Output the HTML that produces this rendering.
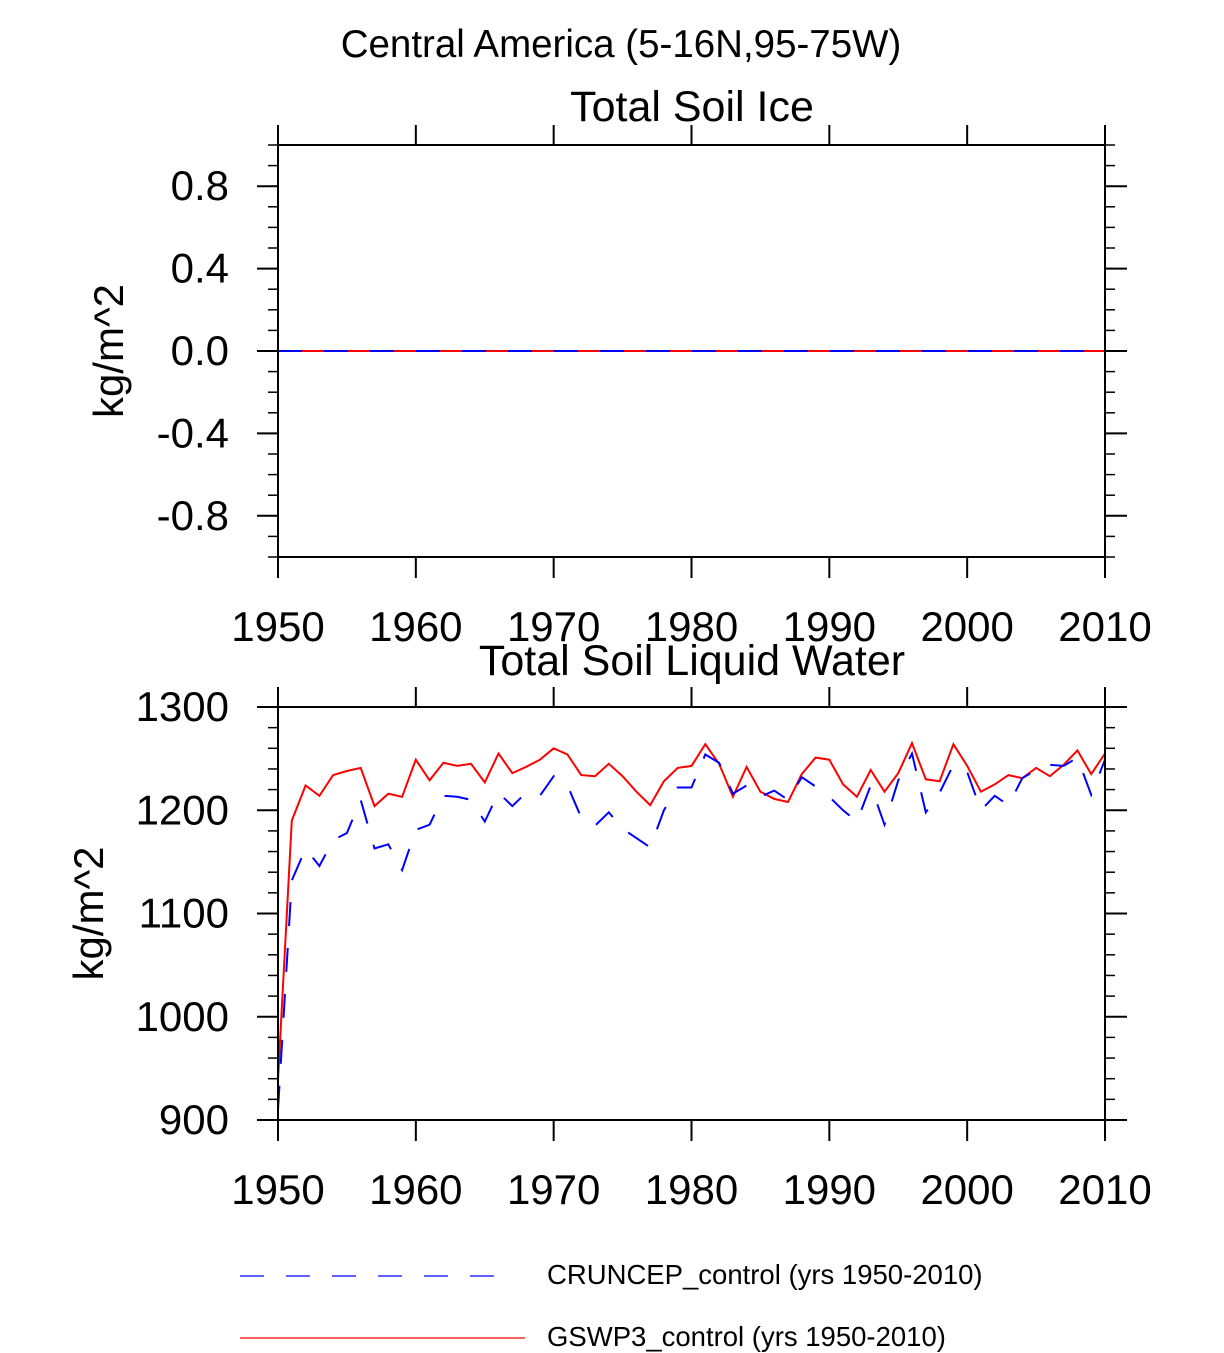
<!DOCTYPE html>
<html><head><meta charset="utf-8"><style>
body{margin:0;background:#fff;}
svg{display:block;font-family:"Liberation Sans",Arial,sans-serif;}
</style></head><body>
<svg id="chart" width="1224" height="1353">
<text x="621" y="57" font-size="38.5" text-anchor="middle">Central America (5-16N,95-75W)</text>
<text x="692" y="121" font-size="43" text-anchor="middle">Total Soil Ice</text>
<text x="692" y="675" font-size="43" text-anchor="middle">Total Soil Liquid Water</text>
<g id="top"></g>
<g id="bot"></g>
<g>
<g>
<line x1="240" y1="1276" x2="515" y2="1276" stroke="#00f" stroke-width="1.3" stroke-dasharray="24,22"/>
<text x="547" y="1284" font-size="27.5">CRUNCEP_control (yrs 1950-2010)</text></g>
<g>
<line x1="240" y1="1338" x2="525" y2="1338" stroke="#f00" stroke-width="1.3"/>
<text x="547" y="1346" font-size="27.5">GSWP3_control (yrs 1950-2010)</text></g>
</g>
</svg>
<script>
const years=[];for(let y=1950;y<=2010;y++)years.push(y);
const xTicks=[1950,1960,1970,1980,1990,2000,2010];
const iceTicks=[0.8,0.4,0.0,-0.4,-0.8];
const iceTickLabels=["0.8","0.4","0.0","-0.4","-0.8"];
const waterTicks=[1300,1200,1100,1000,900];
const iceCRU=years.map(()=>0);
const iceGSW=years.map(()=>0);
const waterCRU=[910,1132,1163,1146,1171,1178,1210,1163,1167,1142,1181,1186,1214,1213,1210,1189,1217,1204,1217,1214,1233,1224,1193,1185,1198,1182,1173,1164,1200,1222,1222,1254,1246,1216,1224,1213,1219,1210,1232,1223,1213,1200,1189,1224,1186,1229,1255,1198,1217,1244,1237,1200,1214,1205,1231,1239,1244,1243,1251,1215,1249];
const waterGSW=[939,1190,1224,1214,1234,1238,1241,1204,1216,1213,1249,1229,1246,1243,1245,1227,1255,1236,1242,1249,1260,1254,1234,1233,1245,1233,1218,1205,1228,1241,1243,1264,1245,1213,1242,1218,1211,1208,1235,1251,1249,1225,1213,1239,1218,1236,1265,1230,1228,1264,1243,1218,1225,1234,1231,1241,1233,1244,1258,1235,1255];
const NS="http://www.w3.org/2000/svg";
function mk(p,t,a){const e=document.createElementNS(NS,t);for(const k in a)e.setAttribute(k,a[k]);p.appendChild(e);return e;}
function panel(g,top,bot,ymin,ymax,ticks,labels,minorStep,cru,gsw,tag){
 const L=278,R=1105;
 const x=v=>L+(v-1950)/60*(R-L);
 const y=v=>bot-(v-ymin)/(ymax-ymin)*(bot-top);
 const pts=a=>a.map((v,i)=>x(years[i]).toFixed(1)+","+y(v).toFixed(1)).join(" ");
 let s=mk(g,"polyline",{points:pts(gsw),fill:"none",stroke:"#f00","stroke-width":2});
 
 
 s=mk(g,"polyline",{points:pts(cru),fill:"none",stroke:"#00f","stroke-width":2,"stroke-dasharray":"24,22"});
 
 
 const box=mk(g,"rect",{x:L,y:top,width:R-L,height:bot-top,fill:"none",stroke:"#000","stroke-width":2});
 
 
 for(let v=ymin;v<=ymax+1e-9;v+=minorStep){const yy=y(v);
  mk(g,"line",{x1:L-10,y1:yy,x2:L,y2:yy,stroke:"#000","stroke-width":1.5});
  mk(g,"line",{x1:R,y1:yy,x2:R+10,y2:yy,stroke:"#000","stroke-width":1.5});}
 ticks.forEach((v,i)=>{const yy=y(v);
  mk(g,"line",{x1:L-21,y1:yy,x2:L,y2:yy,stroke:"#000","stroke-width":2});
  mk(g,"line",{x1:R,y1:yy,x2:R+22,y2:yy,stroke:"#000","stroke-width":2});
  const t=mk(g,"text",{x:229,y:yy+14,"font-size":42,"text-anchor":"end"});t.textContent=labels[i];
  
  });
 xTicks.forEach(v=>{const xx=x(v);
  mk(g,"line",{x1:xx,y1:top-20,x2:xx,y2:top,stroke:"#000","stroke-width":2});
  mk(g,"line",{x1:xx,y1:bot,x2:xx,y2:bot+21,stroke:"#000","stroke-width":2});
  const t=mk(g,"text",{x:xx,y:bot+84,"font-size":42,"text-anchor":"middle"});t.textContent=v;
  
  });
 const yt=mk(g,"text",{x:0,y:0,"font-size":42,"text-anchor":"middle",transform:`translate(${tag==='ice'?123:103},${(top+bot)/2}) rotate(-90)`});
 yt.textContent="kg/m^2";
 
 
}
panel(document.getElementById("top"),145,557,-1,1,iceTicks,iceTickLabels,0.1,iceCRU,iceGSW,'ice');
panel(document.getElementById("bot"),707,1120,900,1300,waterTicks,waterTicks.map(String),20,waterCRU,waterGSW,'water');
</script>
</body></html>
